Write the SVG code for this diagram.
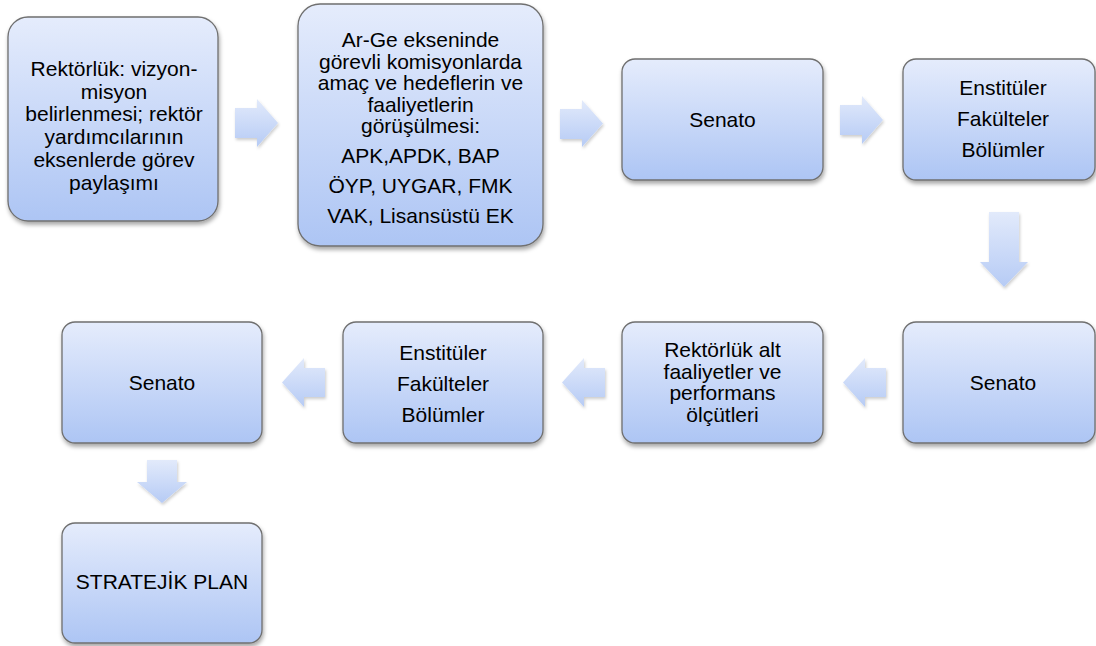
<svg xmlns="http://www.w3.org/2000/svg" width="1096" height="646" viewBox="0 0 1096 646">
<defs>
<linearGradient id="boxGrad" x1="0" y1="0" x2="0" y2="1">
<stop offset="0" stop-color="#e5ecfc"/>
<stop offset="1" stop-color="#adc5f4"/>
</linearGradient>
<linearGradient id="arrGrad" x1="0" y1="0" x2="0" y2="1">
<stop offset="0" stop-color="#e2eafb"/>
<stop offset="1" stop-color="#b6cbf5"/>
</linearGradient>
<filter id="shadow" x="-10%" y="-10%" width="125%" height="125%">
<feDropShadow dx="1" dy="3" stdDeviation="2.2" flood-color="#000" flood-opacity="0.35"/>
</filter>
<filter id="ashadow" x="-20%" y="-20%" width="150%" height="150%">
<feDropShadow dx="1" dy="2" stdDeviation="1.8" flood-color="#000" flood-opacity="0.2"/>
</filter>
<style>
.box{fill:url(#boxGrad);stroke:#6f6f6f;stroke-width:1.3;filter:url(#shadow)}
.arr{fill:url(#arrGrad);filter:url(#ashadow)}
text{font-family:"Liberation Sans",Arial,sans-serif;font-size:21px;fill:#000;text-anchor:middle}
</style>
</defs>
<rect width="1096" height="646" fill="#fff"/>
<g id="connectors">
<path class="arr" d="M235,108 H257 V99 L278,123 L257,147 V138 H235 Z"/>
<path class="arr" d="M560,109 H582 V100 L603,123.5 L582,147 V139 H560 Z"/>
<path class="arr" d="M840,105 H862 V96 L883,120 L862,144 V135 H840 Z"/>
<path class="arr" d="M989,212 H1019 V262 H1028 L1004,287 L980,262 H989 Z"/>
<path class="arr" d="M886,368 H865 V358 L843,382.5 L865,407 V397 H886 Z"/>
<path class="arr" d="M605,368 H584 V358 L562,382.5 L584,407 V397 H605 Z"/>
<path class="arr" d="M325,368 H304 V358 L282,382.5 L304,407 V397 H325 Z"/>
<path class="arr" d="M147,460 H177 V482 H187 L162,503 L137,482 H147 Z"/>
</g>
<g id="n1">
<rect class="box" x="8" y="17" width="210" height="204" rx="20"/>
<text x="114" y="76">Rektörlük: vizyon-</text>
<text x="114" y="98.7">misyon</text>
<text x="114" y="121.4">belirlenmesi; rektör</text>
<text x="114" y="144">yardımcılarının</text>
<text x="114" y="166.8">eksenlerde görev</text>
<text x="114" y="189.5">paylaşımı</text>
</g>
<g id="n2">
<rect class="box" x="298" y="4" width="245" height="242" rx="22"/>
<text x="420.5" y="47">Ar-Ge ekseninde</text>
<text x="420.5" y="68.5">görevli komisyonlarda</text>
<text x="420.5" y="90">amaç ve hedeflerin ve</text>
<text x="420.5" y="111.5">faaliyetlerin</text>
<text x="420.5" y="133">görüşülmesi:</text>
<text x="420.5" y="162.5">APK,APDK, BAP</text>
<text x="420.5" y="193">ÖYP, UYGAR, FMK</text>
<text x="420.5" y="223">VAK, Lisansüstü EK</text>
</g>
<g id="n3">
<rect class="box" x="622" y="59" width="201" height="121" rx="13"/>
<text x="722.5" y="127">Senato</text>
</g>
<g id="n4">
<rect class="box" x="903" y="59" width="192" height="121" rx="13"/>
<text x="1003" y="95">Enstitüler</text>
<text x="1003" y="126">Fakülteler</text>
<text x="1003" y="157">Bölümler</text>
</g>
<g id="n5">
<rect class="box" x="903" y="322" width="192" height="121" rx="13"/>
<text x="1003" y="390">Senato</text>
</g>
<g id="n6">
<rect class="box" x="622" y="322" width="201" height="121" rx="13"/>
<text x="722.5" y="357">Rektörlük alt</text>
<text x="722.5" y="378.5">faaliyetler ve</text>
<text x="722.5" y="400">performans</text>
<text x="722.5" y="421.5">ölçütleri</text>
</g>
<g id="n7">
<rect class="box" x="343" y="322" width="200" height="121" rx="13"/>
<text x="443" y="360">Enstitüler</text>
<text x="443" y="391">Fakülteler</text>
<text x="443" y="422">Bölümler</text>
</g>
<g id="n8">
<rect class="box" x="62" y="322" width="200" height="121" rx="13"/>
<text x="162" y="390">Senato</text>
</g>
<g id="n9">
<rect class="box" x="62" y="523" width="200" height="120" rx="13"/>
<text x="162" y="589">STRATEJİK PLAN</text>
</g>
</svg>
